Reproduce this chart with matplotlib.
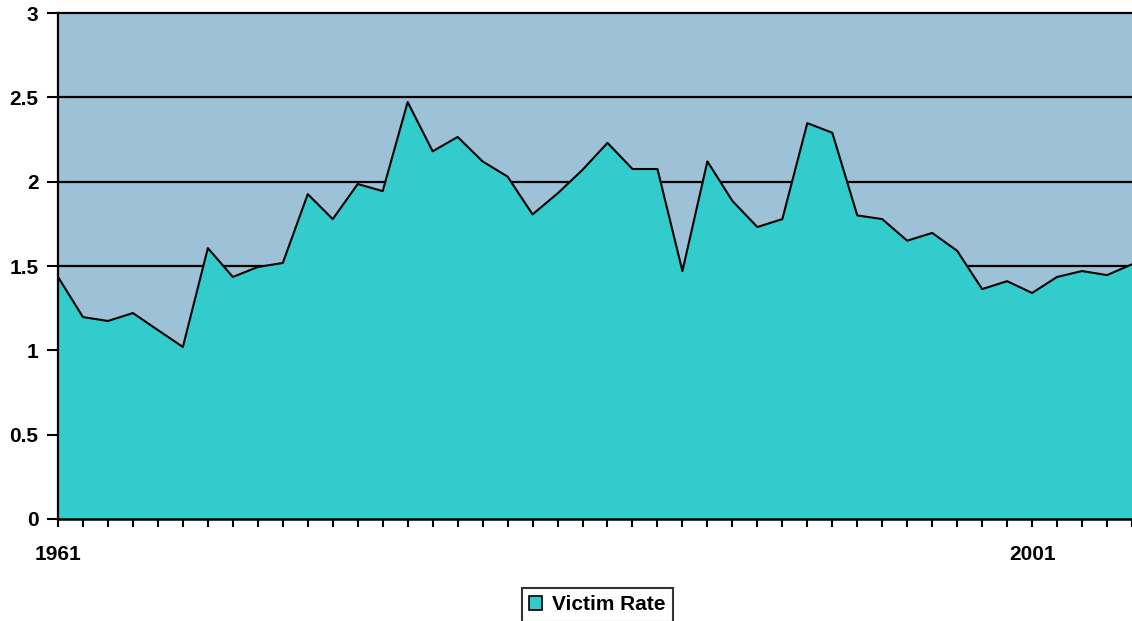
import matplotlib
matplotlib.use("Agg")
import matplotlib.pyplot as plt
from matplotlib.patches import Patch

plt.rcParams['font.family'] = ['Liberation Sans', 'DejaVu Sans']
plt.rcParams['font.weight'] = 'bold'

# victim rate per category (one point per year, first = 1961)
victim_rate = [1.435, 1.197, 1.174, 1.221, 1.12, 1.02, 1.606, 1.435, 1.494, 1.518,
               1.926, 1.778, 1.986, 1.944, 2.472, 2.18, 2.265, 2.12, 2.03, 1.806,
               1.93, 2.07, 2.23, 2.075, 2.075, 1.47, 2.12, 1.886, 1.731, 1.778,
               2.347, 2.29, 1.80, 1.778, 1.65, 1.696, 1.59, 1.363, 1.41, 1.34,
               1.435, 1.47, 1.446, 1.51]
tick_labels = {0: "1961", 39: "2001"}
series_name = "Victim Rate"

fill_color = "#33CCCC"
bg_color = "#9DC1D6"

fig = plt.figure(figsize=(11.32, 6.21), dpi=100)
ax = fig.add_axes([58 / 1132, 102 / 621, (1132 - 58) / 1132, 506 / 621])
ax.set_facecolor(bg_color)

x = list(range(len(victim_rate)))
ax.fill_between(x, 0, victim_rate, color=fill_color, zorder=2)
ax.plot(x, victim_rate, color="black", lw=1.5, zorder=3)

ax.set_ylim(0, 3)
ax.set_xlim(0, (1132 - 58) / 25.2)
yt = [0, 0.5, 1, 1.5, 2, 2.5, 3]
ax.set_yticks(yt)
ax.set_yticklabels(["0", "0.5", "1", "1.5", "2", "2.5", "3"])
for v in yt[1:]:
    ax.axhline(v, color="black", lw=1.6, zorder=1, clip_on=False)

ax.set_xticks(x)
ax.set_xticklabels([tick_labels.get(i, "") for i in x])
ax.tick_params(axis="x", length=6, width=1.5, pad=13, labelsize=15, direction="out")
ax.tick_params(axis="y", length=8, width=1.5, pad=6, labelsize=15, direction="out")
for lab in ax.get_xticklabels() + ax.get_yticklabels():
    lab.set_fontweight("bold")

for s in ["top", "right"]:
    ax.spines[s].set_visible(False)
ax.spines["left"].set_linewidth(1.6)
ax.spines["bottom"].set_linewidth(1.8)
ax.spines["left"].set_zorder(4)
ax.spines["bottom"].set_zorder(4)

handle = Patch(facecolor=fill_color, edgecolor="black", linewidth=1.2)
leg = fig.legend([handle], [series_name], loc="upper center",
                 bbox_to_anchor=(597.5 / 1132, 1 - 588 / 621),
                 frameon=True, fancybox=False, edgecolor="black",
                 prop={"size": 15, "weight": "bold"},
                 handlelength=0.6, handleheight=0.6, handletextpad=0.5,
                 borderpad=0.35, borderaxespad=0)
leg.get_frame().set_linewidth(1.5)

fig.savefig("out.png", dpi=100)
